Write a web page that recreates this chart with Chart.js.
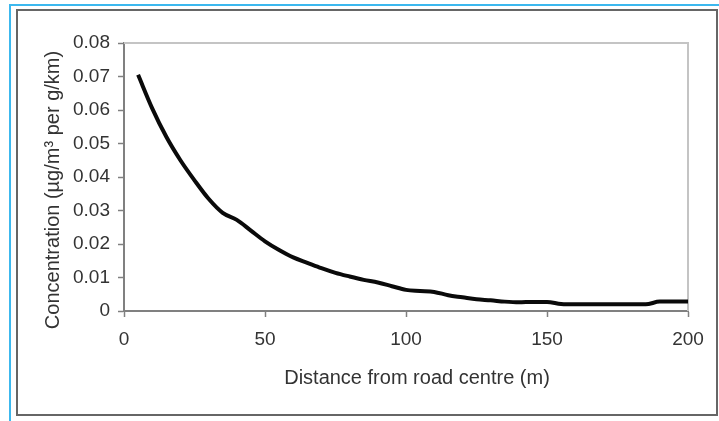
<!DOCTYPE html>
<html>
<head>
<meta charset="utf-8">
<script src="https://cdn.jsdelivr.net/npm/chart.js@4"></script>
<style>
  html, body { margin: 0; padding: 0; background: #ffffff; }
  #wrap { position: relative; width: 719px; height: 421px; }
</style>
</head>
<body>
<div id="wrap"><canvas id="concChart" width="719" height="421"></canvas></div>
<script>
// valores
const distance = [5, 10, 15, 20, 25, 30, 35, 40, 45, 50, 55, 60, 65, 70, 75, 80, 85, 90, 95, 100,
                  105, 110, 115, 120, 125, 130, 135, 140, 145, 150, 155, 160, 165, 170, 175, 180, 185, 190, 195, 200];
const concentration = [0.0705, 0.0605, 0.052, 0.045, 0.039, 0.0335, 0.0293, 0.0272, 0.024, 0.0208,
                       0.0182, 0.016, 0.0144, 0.0128, 0.0114, 0.0103, 0.0093, 0.0085, 0.0074, 0.0063,
                       0.006, 0.0057, 0.0047, 0.0041, 0.0035, 0.0032, 0.0028, 0.0026, 0.0027, 0.0027,
                       0.0021, 0.002, 0.002, 0.002, 0.002, 0.002, 0.002, 0.0028, 0.0028, 0.0028];
const xTitle = 'Distance from road centre (m)';
const yTitle = 'Concentration (µg/m³ per g/km)';

const FONT = '"Liberation Sans", Arial, sans-serif';
const TEXT_COLOR = '#333333';

/**
 * Marco exterior, borde superior/derecho del área y títulos de los ejes
 */
const framePlugin = {
    id: 'frame',
    beforeDraw(chart) {
        const ctx = chart.ctx;
        ctx.save();
        ctx.fillStyle = '#ffffff';
        ctx.fillRect(0, 0, chart.width, chart.height);
        ctx.strokeStyle = '#3cb8ee';
        ctx.lineWidth = 2;
        ctx.beginPath();
        ctx.moveTo(10, chart.height);
        ctx.lineTo(10, 5);
        ctx.lineTo(chart.width, 5);
        ctx.stroke();
        ctx.strokeStyle = '#666666';
        ctx.lineWidth = 2;
        ctx.strokeRect(17, 10, 700, 405);
        ctx.restore();
    },
    beforeDatasetsDraw(chart) {
        const a = chart.chartArea;
        const ctx = chart.ctx;
        ctx.save();
        ctx.strokeStyle = '#c4c4c4';
        ctx.lineWidth = 2;
        ctx.beginPath();
        ctx.moveTo(a.left, a.top);
        ctx.lineTo(a.right, a.top);
        ctx.lineTo(a.right, a.bottom);
        ctx.stroke();
        ctx.restore();
    },
    afterDraw(chart) {
        const a = chart.chartArea;
        const ctx = chart.ctx;
        ctx.save();
        ctx.fillStyle = TEXT_COLOR;
        ctx.font = '20px ' + FONT;
        ctx.textAlign = 'center';
        ctx.textBaseline = 'middle';
        ctx.fillText(xTitle, (a.left + a.right) / 2 + 11, 378);
        ctx.translate(53, (a.top + a.bottom) / 2 + 13);
        ctx.rotate(-Math.PI / 2);
        ctx.fillText(yTitle, 0, 0);
        ctx.restore();
    }
};

const points = distance.map((d, i) => ({ x: d, y: concentration[i] }));

new Chart(document.getElementById('concChart').getContext('2d'), {
    type: 'line',
    data: {
        datasets: [{
            data: points,
            borderColor: '#0a0a0a',
            borderWidth: 4,
            pointRadius: 0,
            cubicInterpolationMode: 'monotone',
            fill: false
        }]
    },
    options: {
        responsive: false,
        animation: false,
        layout: { padding: { left: 0, top: 43, right: 31, bottom: 0 } },
        plugins: {
            legend: { display: false },
            tooltip: { enabled: false }
        },
        scales: {
            x: {
                type: 'linear',
                min: 0,
                max: 200,
                afterFit(scale) { scale.height = 110; },
                border: { color: '#808080', width: 2 },
                grid: {
                    drawOnChartArea: false,
                    tickLength: 6,
                    tickColor: '#808080',
                    tickWidth: 1.5
                },
                ticks: {
                    stepSize: 50,
                    padding: 11,
                    color: TEXT_COLOR,
                    font: { family: FONT, size: 19 }
                }
            },
            y: {
                min: 0,
                max: 0.08,
                afterFit(scale) { scale.width = 124; },
                border: { color: '#808080', width: 2 },
                grid: {
                    drawOnChartArea: false,
                    tickLength: 6,
                    tickColor: '#808080',
                    tickWidth: 1.5
                },
                ticks: {
                    stepSize: 0.01,
                    padding: 8,
                    color: TEXT_COLOR,
                    font: { family: FONT, size: 19 },
                    callback: v => v === 0 ? '0' : v.toFixed(2)
                }
            }
        }
    },
    plugins: [framePlugin]
});
</script>
</body>
</html>
